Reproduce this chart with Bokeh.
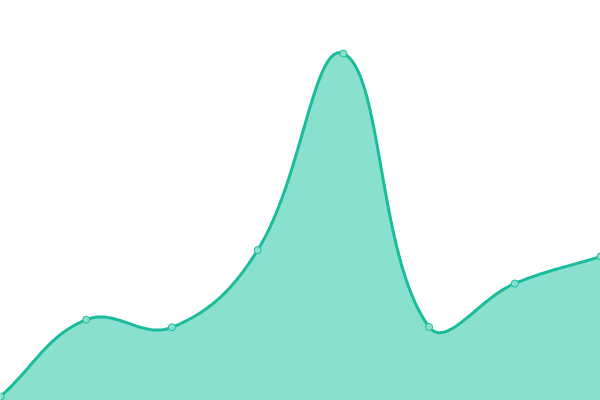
import numpy as np
from bokeh.plotting import figure
from bokeh.embed import file_html
from bokeh.resources import INLINE

# Data
categories = [0, 1, 2, 3, 4, 5, 6, 7]
values = [1.0, 20.2, 18.3, 37.6, 86.75, 18.4, 29.25, 36.0]

W, H = 600, 400
X0, X1 = 0, 7
Y0, Y1 = 0, 100
LINE = "#1abc9c"
FILL = "#8ae0cf"

p = figure(width=W, height=H, output_backend="svg", toolbar_location=None,
           x_range=(X0, X1), y_range=(Y0, Y1), min_border=0)
p.axis.visible = False
p.grid.visible = False
p.outline_line_color = None
p.background_fill_color = "white"
p.border_fill_color = "white"

# Smooth (tension 0.4) curve through the points, computed in screen space
xs = np.array(categories, dtype=float)
ys = np.array(values, dtype=float)
px = (xs - X0) / (X1 - X0) * W
py = (ys - Y0) / (Y1 - Y0) * H
n = len(px)
t = 0.4
cp_prev = np.zeros((n, 2))
cp_next = np.zeros((n, 2))
for i in range(n):
    pr = np.array([px[max(i - 1, 0)], py[max(i - 1, 0)]])
    cu = np.array([px[i], py[i]])
    nx = np.array([px[min(i + 1, n - 1)], py[min(i + 1, n - 1)]])
    d01 = np.hypot(*(cu - pr))
    d12 = np.hypot(*(nx - cu))
    tot = d01 + d12
    s01 = d01 / tot if tot else 0
    s12 = d12 / tot if tot else 0
    cp_prev[i] = cu - t * s01 * (nx - pr)
    cp_next[i] = cu + t * s12 * (nx - pr)

sx, sy = [], []
u = np.linspace(0, 1, 40)
for i in range(n - 1):
    P0 = np.array([px[i], py[i]])
    P1 = cp_next[i]
    P2 = cp_prev[i + 1]
    P3 = np.array([px[i + 1], py[i + 1]])
    b = ((1 - u) ** 3)[:, None] * P0 + (3 * (1 - u) ** 2 * u)[:, None] * P1 \
        + (3 * (1 - u) * u ** 2)[:, None] * P2 + (u ** 3)[:, None] * P3
    if i > 0:
        b = b[1:]
    sx.extend(b[:, 0])
    sy.extend(b[:, 1])
cx = np.array(sx) / W * (X1 - X0) + X0
cy = np.array(sy) / H * (Y1 - Y0) + Y0

p.patch(list(cx) + [X1, X0], list(cy) + [Y0, Y0], fill_color=FILL, line_color=None)
p.line(cx, cy, line_color=LINE, line_width=3)
p.scatter(categories, values, size=7, fill_color=FILL, line_color=LINE, line_width=1)

open("out.html", "w").write(file_html(p, INLINE))
